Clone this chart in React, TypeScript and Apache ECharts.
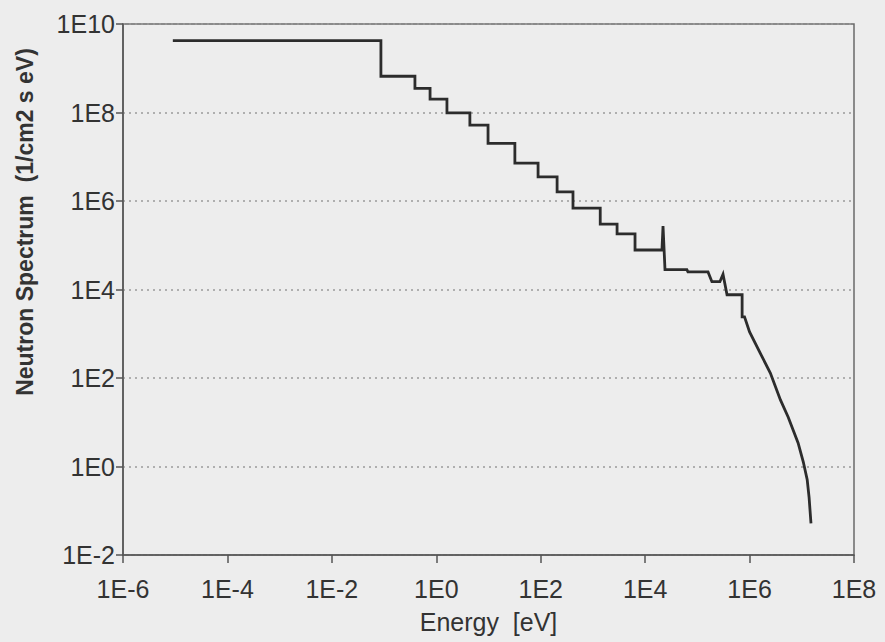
import React, { useEffect, useRef } from "react";
import * as echarts from "echarts";

// Energy (eV) and neutron spectrum (1/cm2 s eV)
const energyEv: number[] = [
  9e-6, 0.087, 0.087, 0.39, 0.39, 0.76, 0.76, 1.6, 1.6, 4.4, 4.4, 9.8, 9.8,
  32, 32, 89, 89, 206, 206, 415, 415, 1380, 1380, 2900, 2900, 6400, 6400,
  2.1e4, 2.2e4, 2.4e4, 6.3e4, 6.6e4, 1.6e5, 1.9e5, 2.7e5, 3.1e5, 3.7e5,
  7.2e5, 7.2e5, 8.0e5, 1.0e6, 1.6e6, 2.5e6, 3.9e6, 5.5e6, 8.5e6, 1.07e7,
  1.27e7, 1.38e7, 1.5e7,
];
const fluxValues: number[] = [
  4.2e9, 4.2e9, 6.6e8, 6.6e8, 3.5e8, 3.5e8, 2.0e8, 2.0e8, 9.8e7, 9.8e7,
  5.2e7, 5.2e7, 2.0e7, 2.0e7, 7.2e6, 7.2e6, 3.5e6, 3.5e6, 1.6e6, 1.6e6,
  6.9e5, 6.9e5, 3.0e5, 3.0e5, 1.8e5, 1.8e5, 7.8e4, 7.8e4, 2.7e5, 2.8e4,
  2.8e4, 2.5e4, 2.5e4, 1.5e4, 1.5e4, 2.2e4, 7.6e3, 7.6e3, 2.4e3, 2.4e3,
  1.1e3, 367, 129, 32, 13, 3.4, 1.26, 0.5, 0.2, 0.052,
];

const xMin = 1e-6;
const xMax = 1e8;
const yMin = 1e-2;
const yMax = 1e10;

const xTitle = "Energy  [eV]";
const yTitle = "Neutron Spectrum  (1/cm2 s eV)";

const expLabel = (v: number) => "1E" + Math.round(Math.log10(v));

export default function App() {
  const ref = useRef<HTMLDivElement>(null);

  useEffect(() => {
    if (!ref.current) return;
    const chart = echarts.init(ref.current, undefined, { renderer: "svg" });
    const data = energyEv.map((e, i) => [e, fluxValues[i]]);
    const labelFont = "'Liberation Sans', Arial, sans-serif";
    chart.setOption({
      animation: false,
      backgroundColor: "#ededed",
      grid: {
        left: 123,
        right: 31,
        top: 24,
        bottom: 87,
        show: true,
        borderColor: "#6a6a6a",
        borderWidth: 1.5,
        backgroundColor: "transparent",
      },
      graphic: [
        {
          type: "text",
          x: 25,
          y: 222,
          rotation: Math.PI / 2,
          style: {
            text: yTitle,
            fill: "#333",
            font: "bold 23px 'Liberation Sans', Arial, sans-serif",
            align: "center",
            verticalAlign: "middle",
          },
        },
      ],
      xAxis: {
        type: "log",
        logBase: 100,
        min: xMin,
        max: xMax,
        splitNumber: 7,
        name: xTitle,
        nameLocation: "middle",
        nameGap: 54,
        nameTextStyle: {
          color: "#333",
          fontSize: 25,
          fontFamily: labelFont,
        },
        axisLine: { show: true, lineStyle: { color: "#555", width: 1.5 } },
        axisTick: { show: true, length: 8, lineStyle: { color: "#555", width: 1.5 } },
        axisLabel: {
          formatter: expLabel,
          color: "#333",
          fontSize: 25,
          fontFamily: labelFont,
          margin: 21,
        },
        splitLine: { show: false },
        minorTick: { show: false },
      },
      yAxis: {
        type: "log",
        logBase: 100,
        min: yMin,
        max: yMax,
        splitNumber: 6,
        axisLine: { show: true, lineStyle: { color: "#555", width: 1.5 } },
        axisTick: { show: true, length: 7, lineStyle: { color: "#555", width: 1.5 } },
        axisLabel: {
          formatter: expLabel,
          color: "#333",
          fontSize: 25,
          fontFamily: labelFont,
          margin: 8,
        },
        splitLine: {
          show: true,
          lineStyle: { color: "#9a9a9a", type: [2, 4], width: 1.5 },
        },
      },
      series: [
        {
          type: "line",
          data,
          symbol: "none",
          lineStyle: { color: "#2c2c2c", width: 2.8, join: "miter" },
        },
      ],
    });
    return () => chart.dispose();
  }, []);

  return (
    <div
      ref={ref}
      style={{ position: "fixed", left: 0, top: 0, width: 885, height: 642 }}
    />
  );
}
